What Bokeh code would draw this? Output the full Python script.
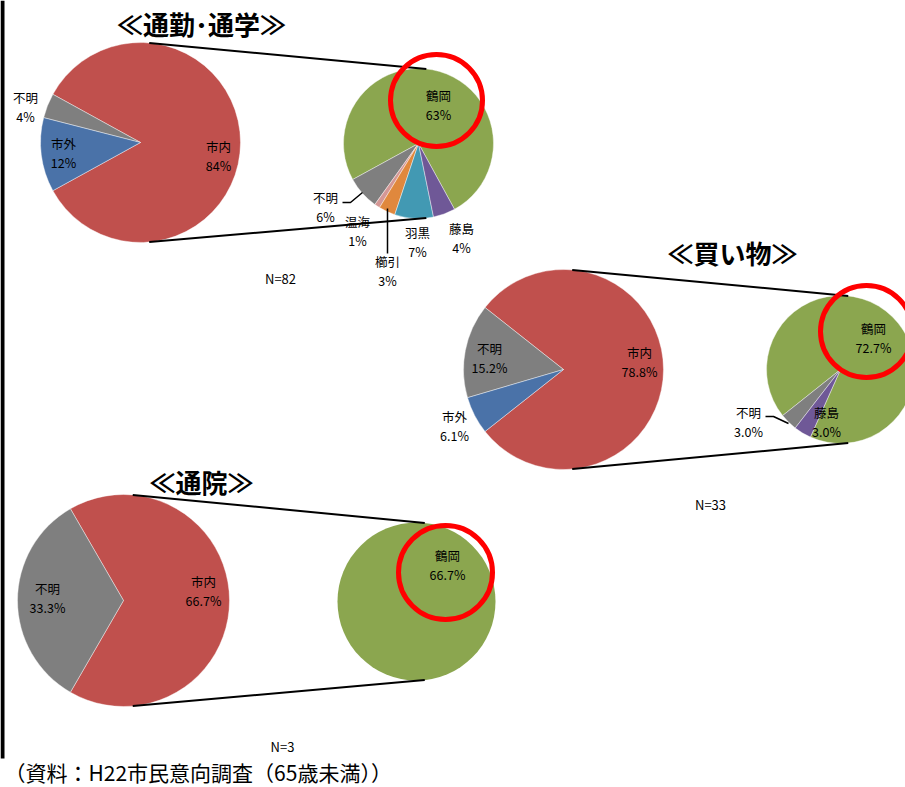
import numpy as np
from bokeh.plotting import figure
from bokeh.models import ColumnDataSource, Range1d
from bokeh.core.properties import value
from bokeh.embed import file_html
from bokeh.resources import INLINE

W, H = 905, 787

# ---------------- data ----------------
commute_title = "≪通勤･通学≫"
commute_main_labels = ["市内", "不明", "市外"]
commute_main_values = [84, 4, 12]
commute_sub_labels = ["鶴岡", "不明", "温海", "櫛引", "羽黒", "藤島"]
commute_sub_values = [63, 6, 1, 3, 7, 4]
commute_n = 82

shopping_title = "≪買い物≫"
shopping_main_labels = ["市内", "不明", "市外"]
shopping_main_values = [78.8, 15.2, 6.1]
shopping_sub_labels = ["鶴岡", "不明", "藤島"]
shopping_sub_values = [72.7, 3.0, 3.0]
shopping_n = 33

hospital_title = "≪通院≫"
hospital_main_labels = ["市内", "不明"]
hospital_main_values = [66.7, 33.3]
hospital_sub_labels = ["鶴岡"]
hospital_sub_values = [66.7]
hospital_n = 3

source_note = "（資料：H22市民意向調査（65歳未満））"

# ---------------- style ----------------
COLORS = {
    "市内": "#C0504D", "市外": "#4A72A8", "不明": "#7F7F7F",
    "鶴岡": "#8BA64F", "藤島": "#6F5897", "羽黒": "#4299B3",
    "櫛引": "#E0883D", "温海": "#D49795",
}
FONT = "Noto Sans CJK JP"

panels = [
    dict(title=commute_title, main_l=commute_main_labels, main_v=commute_main_values,
         sub_l=commute_sub_labels, sub_v=commute_sub_values, n=commute_n, fmt="{:.0f}%",
         mc=(140, 142), mr=100, sc=(418, 143), sr=75, sub_start=-61.3,
         title_xy=(201, 23), n_xy=(280, 278), circ=(18, -43, 46),
         main_lab={"市内": (78, 4), "不明": (-115, -45), "市外": (-77, 1)},
         sub_lab={"鶴岡": (20, -48), "不明": (-93, 54), "温海": (-61, 78),
                  "櫛引": (-31, 118), "羽黒": (-1, 89), "藤島": (43, 85)},
         leaders=[[(-76, 59), (-68, 59), (-56, 49)], [(-31, 65), (-31, 110)]]),
    dict(title=shopping_title, main_l=shopping_main_labels, main_v=shopping_main_values,
         sub_l=shopping_sub_labels, sub_v=shopping_sub_values, n=shopping_n, fmt="{:.1f}%",
         mc=(563, 369), mr=100, sc=(840, 369), sr=74, sub_start=-114.0,
         title_xy=(732, 252), n_xy=(710, 504), circ=(26, -38, 46),
         main_lab={"市内": (76, -17), "不明": (-74, -21), "市外": (-109, 47)},
         sub_lab={"鶴岡": (33, -41), "不明": (-92, 43), "藤島": (-14, 43)},
         leaders=[[(-75, 47), (-67, 47), (-52, 54)]]),
    dict(title=hospital_title, main_l=hospital_main_labels, main_v=hospital_main_values,
         sub_l=hospital_sub_labels, sub_v=hospital_sub_values, n=hospital_n, fmt="{:.1f}%",
         mc=(123, 600), mr=106, sc=(416, 601), sr=79, sub_start=90.0,
         title_xy=(201, 481), n_xy=(282, 746), circ=(29, -29, 47),
         main_lab={"市内": (80, -19), "不明": (-76, -12)},
         sub_lab={"鶴岡": (31, -46)},
         leaders=[]),
]

p = figure(width=W, height=H, output_backend="svg", toolbar_location=None,
           x_range=Range1d(0, W), y_range=Range1d(0, H), min_border=0)
p.axis.visible = False
p.grid.visible = False
p.outline_line_color = None
p.background_fill_color = "white"


def Y(y):
    return H - y


def wedges(cx, cy, r, labels, vals, start_deg):
    vals = np.asarray(vals, dtype=float)
    frac = vals / vals.sum()
    ang = np.deg2rad(start_deg) + np.concatenate([[0], np.cumsum(frac)]) * 2 * np.pi
    if len(vals) == 1:
        p.circle(x=[cx], y=[Y(cy)], radius=r, fill_color=COLORS[labels[0]],
                 line_color=None)
        return
    src = ColumnDataSource(dict(x=[cx] * len(vals), y=[Y(cy)] * len(vals),
                                s=ang[:-1], e=ang[1:],
                                c=[COLORS[l] for l in labels]))
    p.wedge(x="x", y="y", radius=r, start_angle="s", end_angle="e",
            direction="anticlock", fill_color="c", line_color="white",
            line_width=0.6, line_alpha=0.7, source=src)


def label(cx, cy, off, name, pct):
    x, y = cx + off[0], cy + off[1]
    p.text(x=[x], y=[Y(y)], text=[name], text_font=value(FONT), text_font_size="12.5px",
           text_align="center", text_baseline="middle", text_color="black")
    p.text(x=[x], y=[Y(y + 19)], text=[pct], text_font=value(FONT), text_font_size="12.5px",
           text_align="center", text_baseline="middle", text_color="black")


for pn in panels:
    mcx, mcy = pn["mc"]
    scx, scy = pn["sc"]
    mv = np.asarray(pn["main_v"], dtype=float)
    share = mv[0] / mv.sum()
    main_start = -share * 180.0
    wedges(mcx, mcy, pn["mr"], pn["main_l"], pn["main_v"], main_start)
    wedges(scx, scy, pn["sr"], pn["sub_l"], pn["sub_v"], pn["sub_start"])

    # connector lines
    for sgn in (1, -1):
        a1 = np.deg2rad(90 - 5) * sgn
        a2 = np.deg2rad(90 - 6) * sgn
        p.line(x=[mcx + pn["mr"] * np.cos(a1), scx + pn["sr"] * np.cos(a2)],
               y=[Y(mcy) + pn["mr"] * np.sin(a1), Y(scy) + pn["sr"] * np.sin(a2)],
               line_color="black", line_width=2)

    # labels
    for l, v in zip(pn["main_l"], pn["main_v"]):
        label(mcx, mcy, pn["main_lab"][l], l, pn["fmt"].format(v))
    for l, v in zip(pn["sub_l"], pn["sub_v"]):
        label(scx, scy, pn["sub_lab"][l], l, pn["fmt"].format(v))
    for ld in pn["leaders"]:
        p.line(x=[scx + a for a, b in ld], y=[Y(scy + b) for a, b in ld],
               line_color="black", line_width=1.5)

    # highlight circle
    ox, oy, rr = pn["circ"]
    p.circle(x=[scx + ox], y=[Y(scy + oy)], radius=rr, fill_color=None,
             line_color="#FF0000", line_width=5)

    # title and N
    tx, ty = pn["title_xy"]
    p.text(x=[tx], y=[Y(ty)], text=[pn["title"]], text_font=value(FONT),
           text_font_size="26px", text_font_style="bold", text_align="center",
           text_baseline="middle", text_color="black")
    nx, ny = pn["n_xy"]
    p.text(x=[nx], y=[Y(ny)], text=["N={}".format(pn["n"])], text_font=value(FONT),
           text_font_size="13px", text_align="center", text_baseline="middle",
           text_color="black")

# left border line and source note
p.segment(x0=[2], y0=[Y(0)], x1=[2], y1=[Y(758)], line_color="black", line_width=4)
p.text(x=[4], y=[Y(771)], text=[source_note], text_font=value(FONT),
       text_font_size="21px", text_align="left", text_baseline="middle",
       text_color="black")

open("out.html", "w").write(file_html(p, INLINE))
